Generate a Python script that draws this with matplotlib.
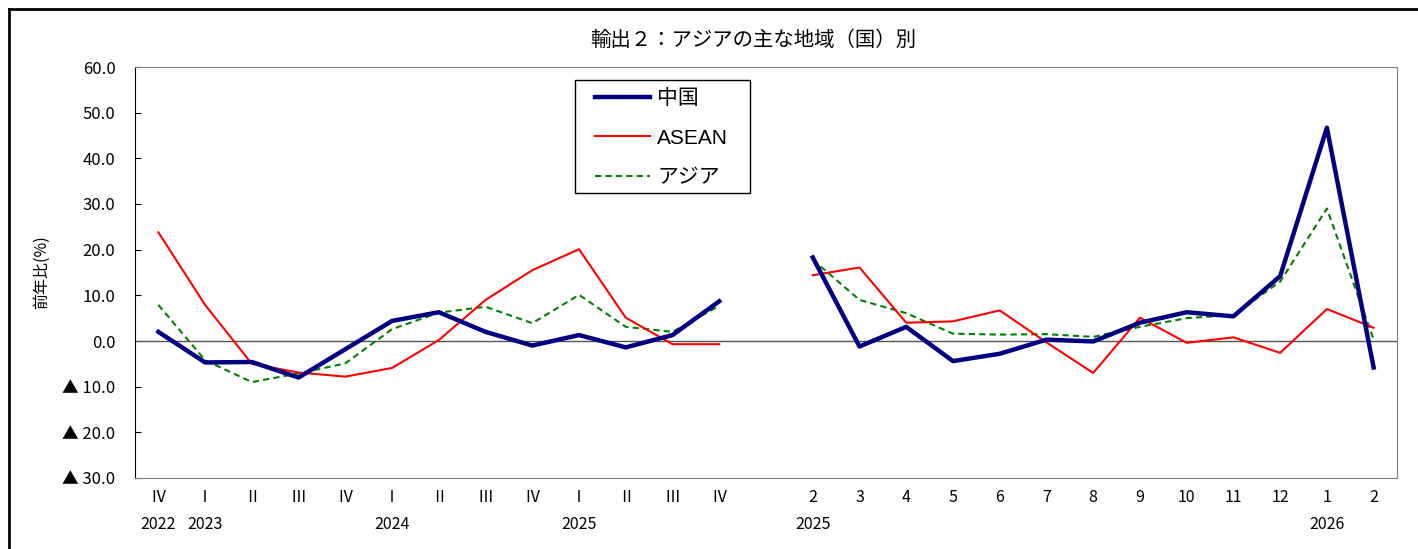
import numpy as np
import matplotlib
matplotlib.use("Agg")
import matplotlib.pyplot as plt
from matplotlib.lines import Line2D
from matplotlib.patches import Rectangle

plt.rcParams['font.family'] = ['Noto Sans CJK JP', 'DejaVu Sans']

# ---- data ----
q_labels = ["Ⅳ", "Ⅰ", "Ⅱ", "Ⅲ", "Ⅳ", "Ⅰ", "Ⅱ", "Ⅲ", "Ⅳ", "Ⅰ", "Ⅱ", "Ⅲ", "Ⅳ"]
q_years = ["2022", "2023", "", "", "", "2024", "", "", "", "2025", "", "", ""]
m_labels = ["2", "3", "4", "5", "6", "7", "8", "9", "10", "11", "12", "1", "2"]
m_years = ["2025", "", "", "", "", "", "", "", "", "", "", "2026", ""]

china_q = [2.0, -4.7, -4.6, -8.0, -1.8, 4.4, 6.3, 2.0, -1.0, 1.3, -1.4, 1.3, 8.7]
asean_q = [23.8, 7.9, -5.0, -6.9, -7.8, -5.9, 0.2, 9.0, 15.5, 20.1, 5.1, -0.7, -0.7]
asia_q = [7.9, -4.2, -9.0, -7.1, -4.9, 2.6, 6.2, 7.5, 3.9, 10.1, 3.1, 2.0, 7.7]

china_m = [18.3, -1.2, 3.1, -4.4, -2.8, 0.3, -0.1, 4.0, 6.3, 5.4, 14.2, 46.7, -5.8]
asean_m = [14.4, 16.1, 4.0, 4.3, 6.7, -0.3, -7.0, 5.1, -0.4, 0.8, -2.6, 7.0, 2.9]
asia_m = [17.8, 9.0, 6.1, 1.6, 1.4, 1.5, 0.9, 3.1, 5.0, 5.7, 13.0, 29.0, 0.3]

series_names = ["中国", "ASEAN", "アジア"]
title = "輸出２：アジアの主な地域（国）別"
ylabel = "前年比(%)"

# ---- layout ----
W, H = 1418, 549
fig = plt.figure(figsize=(W / 100, H / 100), dpi=100)
ax = fig.add_axes([135 / W, 1 - 478 / H, (1397 - 135) / W, (478 - 67) / H])

nq = len(q_labels)
nm = len(m_labels)
xq = np.arange(nq)
xm = np.arange(nm) + nq + 1

styles = [
    dict(color="#000080", lw=3.2, ls="-"),
    dict(color="#FF0000", lw=1.5, ls="-"),
    dict(color="#008000", lw=1.5, ls=(0, (3, 2))),
]
data_q = [china_q, asean_q, asia_q]
data_m = [china_m, asean_m, asia_m]
order = [2, 1, 0]
handles = {}
for i in order:
    ax.plot(xq, data_q[i], solid_joinstyle="round", zorder=3 + (2 - i), **styles[i])
    h, = ax.plot(xm, data_m[i], solid_joinstyle="round", zorder=3 + (2 - i), **styles[i])
    handles[i] = h

ax.axhline(0, color="#555555", lw=1.0, zorder=2)

ax.set_xlim(-0.5, nq + nm + 0.5)
ax.set_ylim(-30, 60)
yt = np.arange(-30, 61, 10)
ax.set_yticks(yt)
ax.set_yticklabels([("▲ %.1f" % abs(v)) if v < 0 else ("%.1f" % v) for v in yt], fontsize=12)
ax.tick_params(axis="y", direction="in", length=4, pad=14, color="black")

ticks = list(xq) + list(xm)
labs = [a + "\n" + b for a, b in zip(q_labels, q_years)] + [a + "\n" + b for a, b in zip(m_labels, m_years)]
ax.set_xticks(ticks)
ax.set_xticklabels(labs, fontsize=11.5, linespacing=1.75)
ax.tick_params(axis="x", length=0, pad=8)

for s in ["top", "right", "bottom"]:
    ax.spines[s].set_color("#808080")
ax.spines["left"].set_color("black")

ax.set_ylabel(ylabel, fontsize=11.5)
ax.yaxis.set_label_coords((50 - 135) / (1397 - 135), 0.5)

fig.text(753 / W, 1 - 40 / H, title, ha="center", va="center", fontsize=14.7)

# legend: frame drawn separately so padding can match
fig.add_artist(Rectangle((575 / W, 1 - 193 / H), 175 / W, 113 / H, transform=fig.transFigure,
                         facecolor="white", edgecolor="black", lw=1.0, zorder=9))
leg = fig.legend([handles[0], handles[1], handles[2]], series_names,
                 loc="upper left", bbox_to_anchor=(595 / W, 1 - 89 / H),
                 prop=dict(family=['Liberation Sans', 'Noto Sans CJK JP'], size=15),
                 frameon=False, handlelength=2.65, labelspacing=0.98, borderpad=0,
                 handletextpad=0.33, borderaxespad=0)
leg.set_zorder(10)

# outer frame (top and left edges visible)
fig.add_artist(Line2D([9 / W, 9 / W], [0, 1 - 9 / H], color="black", lw=2, transform=fig.transFigure))
fig.add_artist(Line2D([9 / W, 1], [1 - 9 / H, 1 - 9 / H], color="black", lw=2, transform=fig.transFigure))

fig.savefig("out.png", dpi=100)
